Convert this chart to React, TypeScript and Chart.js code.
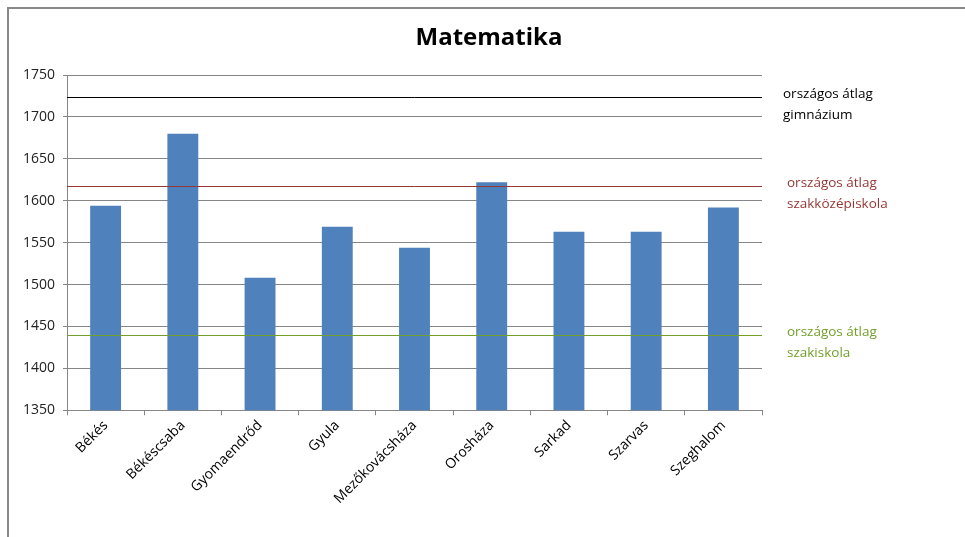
import React, { useEffect, useRef } from "react";
import { Chart, registerables } from "chart.js";

Chart.register(...registerables);

const categories = ["Békés", "Békéscsaba", "Gyomaendrőd", "Gyula", "Mezőkovácsháza", "Orosháza", "Sarkad", "Szarvas", "Szeghalom"];
const scores = [1594, 1680, 1508, 1569, 1544, 1622, 1563, 1563, 1592];
const refValues = [1724, 1618, 1440];
const refLabels = [["országos átlag", "gimnázium"], ["országos átlag", "szakközépiskola"], ["országos átlag", "szakiskola"]];
const refColors = ["#000000", "#953735", "#72A02A"];
const titleText = "Matematika";

const FONT = "'Open Sans', 'Noto Sans', sans-serif";

const refPlugin = {
  id: "refLines",
  afterDatasetsDraw(chart: any) {
    const { ctx, chartArea, scales } = chart;
    const y = scales.y;
    ctx.save();
    refValues.forEach((v, i) => {
      const py = Math.round(y.getPixelForValue(v)) + 0.5;
      ctx.strokeStyle = refColors[i];
      ctx.lineWidth = 1;
      ctx.beginPath();
      ctx.moveTo(chartArea.left, py);
      ctx.lineTo(chartArea.right, py);
      ctx.stroke();
      ctx.fillStyle = refColors[i];
      ctx.font = "13.5px " + FONT;
      ctx.textBaseline = "middle";
      ctx.textAlign = "left";
      const lx = chartArea.right + (i === 0 ? 21 : 25);
      refLabels[i].forEach((t, j) => {
        ctx.fillText(t, lx, py - 3 + j * 21);
      });
    });
    ctx.font = "bold 24px " + FONT;
    ctx.fillStyle = "#000";
    ctx.textAlign = "center";
    ctx.textBaseline = "middle";
    ctx.fillText(titleText, 489, 38);
    ctx.restore();
  },
};

export default function App() {
  const ref = useRef<HTMLCanvasElement>(null);
  useEffect(() => {
    const chart = new Chart(ref.current!, {
      type: "bar",
      data: {
        labels: categories,
        datasets: [
          {
            data: scores,
            backgroundColor: "#4F81BD",
            barPercentage: 0.4,
            categoryPercentage: 1,
          },
        ],
      },
      options: {
        animation: false,
        responsive: false,
        layout: { padding: { top: 75, right: 203, left: 10, bottom: 28 } },
        plugins: { legend: { display: false }, tooltip: { enabled: false }, title: { display: false } },
        scales: {
          x: {
            offset: true,
            grid: { display: true, offset: true, drawOnChartArea: false, drawTicks: true, tickLength: 5, color: "#868686" },
            border: { display: true, color: "#868686" },
            ticks: { color: "#000", font: { family: FONT, size: 14 }, minRotation: 45, maxRotation: 45, autoSkip: false, padding: 2 },
          },
          y: {
            min: 1350,
            max: 1750,
            afterFit: (s: any) => { s.width = 57; },
            ticks: { stepSize: 50, color: "#222", font: { family: FONT, size: 14 }, padding: 8, callback: (v: any) => String(v) },
            grid: { color: "#868686", tickLength: 4 },
            border: { display: true, color: "#868686" },
          },
        },
      },
      plugins: [refPlugin],
    });
    return () => chart.destroy();
  }, []);
  return (
    <div style={{ position: "absolute", left: 0, top: 0, width: 965, height: 537, background: "#fff", overflow: "hidden" }}>
      <div style={{ position: "absolute", left: 7, top: 7, width: 980, height: 560, borderTop: "2px solid #888", borderLeft: "2px solid #888" }} />
      <canvas ref={ref} width={965} height={537} style={{ position: "absolute", left: 0, top: 0 }} />
    </div>
  );
}
